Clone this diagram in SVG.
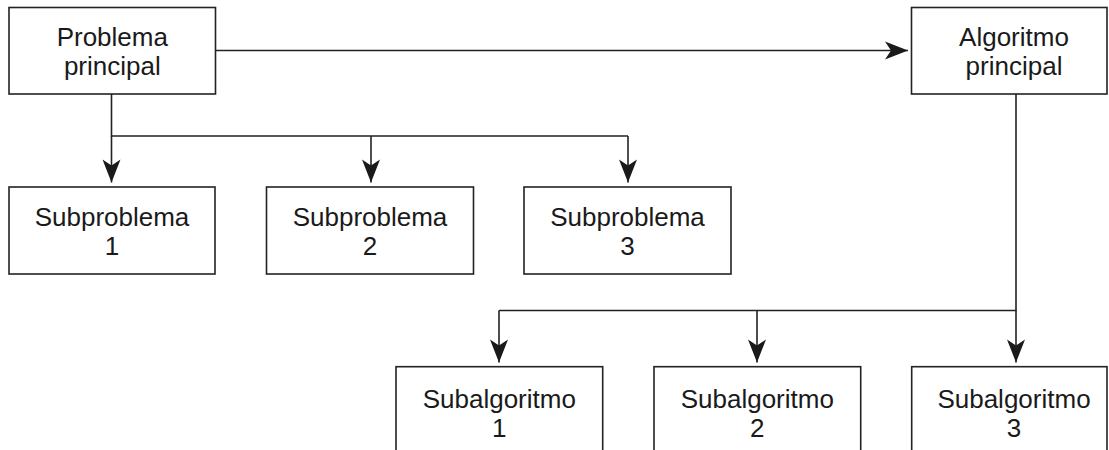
<svg xmlns="http://www.w3.org/2000/svg" width="1109" height="450" viewBox="0 0 1109 450">
<style>
.box{fill:#fff;stroke:#222;stroke-width:1.6}
.lbl{font-family:"Liberation Sans",Arial,sans-serif;font-size:26px;fill:#1a1a1a;text-anchor:middle}
.con{fill:none;stroke:#222;stroke-width:1.6}
</style>
<defs>
<marker id="ah" markerUnits="userSpaceOnUse" markerWidth="26" markerHeight="20" viewBox="0 0 26 20" refX="24" refY="10" orient="auto">
<path d="M1,1 L24,10 L1,19 L7,10 Z" fill="#1a1a1a"/>
</marker>
</defs>
<g id="connectors">
<path class="con" d="M216,50.5 H908" marker-end="url(#ah)"/>
<path class="con" d="M111.5,94 V136 H628"/>
<path class="con" d="M111.5,136 V182.5" marker-end="url(#ah)"/>
<path class="con" d="M371,136 V182.5" marker-end="url(#ah)"/>
<path class="con" d="M628,136 V182.5" marker-end="url(#ah)"/>
<path class="con" d="M1016,94 V310.5 H499"/>
<path class="con" d="M499,310.5 V362.5" marker-end="url(#ah)"/>
<path class="con" d="M757,310.5 V362.5" marker-end="url(#ah)"/>
<path class="con" d="M1016,310.5 V362.5" marker-end="url(#ah)"/>
</g>
<g id="problema-principal">
<rect class="box" x="9" y="7.5" width="206.5" height="86.5"/>
<text class="lbl" x="112.3" y="46">Problema</text>
<text class="lbl" x="112.3" y="75">principal</text>
</g>
<g id="algoritmo-principal">
<rect class="box" x="911.5" y="7.5" width="195.5" height="86.5"/>
<text class="lbl" x="1014" y="46">Algoritmo</text>
<text class="lbl" x="1014" y="75">principal</text>
</g>
<g id="subproblema-1">
<rect class="box" x="9" y="187" width="206" height="87"/>
<text class="lbl" x="112" y="226">Subproblema</text>
<text class="lbl" x="112" y="255">1</text>
</g>
<g id="subproblema-2">
<rect class="box" x="266.5" y="187" width="207" height="87"/>
<text class="lbl" x="370" y="226">Subproblema</text>
<text class="lbl" x="370" y="255">2</text>
</g>
<g id="subproblema-3">
<rect class="box" x="524" y="187" width="207" height="87"/>
<text class="lbl" x="627.5" y="226">Subproblema</text>
<text class="lbl" x="627.5" y="255">3</text>
</g>
<g id="subalgoritmo-1">
<rect class="box" x="396" y="366.7" width="206.7" height="100"/>
<text class="lbl" x="499.3" y="408">Subalgoritmo</text>
<text class="lbl" x="499.3" y="437">1</text>
</g>
<g id="subalgoritmo-2">
<rect class="box" x="654" y="366.7" width="206.7" height="100"/>
<text class="lbl" x="757.3" y="408">Subalgoritmo</text>
<text class="lbl" x="757.3" y="437">2</text>
</g>
<g id="subalgoritmo-3">
<rect class="box" x="911.7" y="366.7" width="195.3" height="100"/>
<text class="lbl" x="1014" y="408">Subalgoritmo</text>
<text class="lbl" x="1014" y="437">3</text>
</g>
</svg>
